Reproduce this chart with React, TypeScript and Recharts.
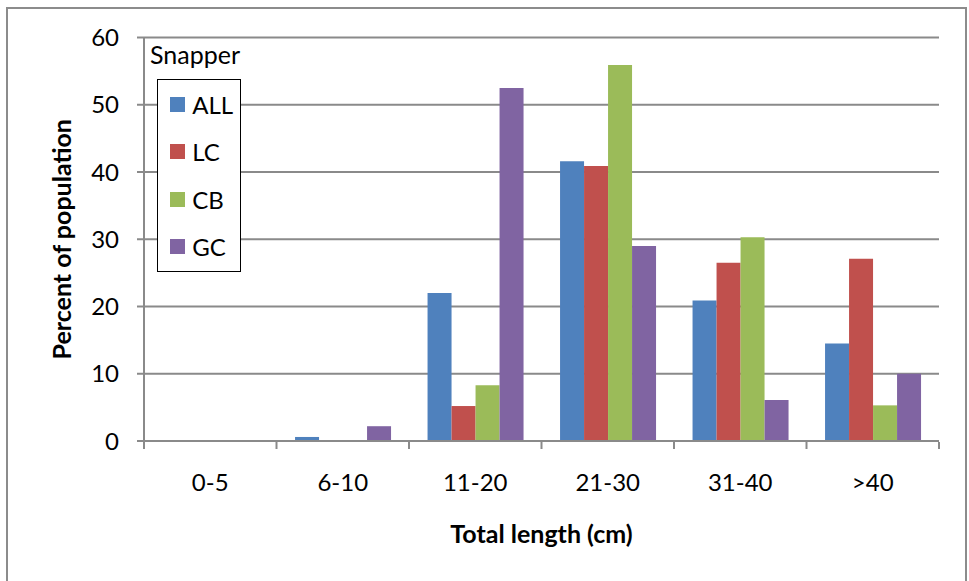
import React from 'react';
import {
  BarChart,
  Bar,
  XAxis,
  YAxis,
  CartesianGrid,
  Legend
} from 'recharts';

// Size classes on the x axis
const lengthClasses = ['0-5', '6-10', '11-20', '21-30', '31-40', '>40'];

// Percent of population per region
const seriesNames = ['ALL', 'LC', 'CB', 'GC'];
const allValues = [0, 0.6, 22.0, 41.6, 20.9, 14.5];
const lcValues = [0, 0, 5.2, 40.9, 26.5, 27.1];
const cbValues = [0, 0, 8.3, 55.9, 30.3, 5.3];
const gcValues = [0, 2.2, 52.5, 29.0, 6.1, 10.0];

const yTicks = [0, 10, 20, 30, 40, 50, 60];
const edgeTicks = [0, 1, 2, 3, 4, 5, 6];

const chartData = lengthClasses.map((cls, i) => ({
  cls,
  ALL: allValues[i],
  LC: lcValues[i],
  CB: cbValues[i],
  GC: gcValues[i]
}));

const FONT = 'Lato, "Noto Sans", sans-serif';
const GRID = '#8a8a8a';

// Excel-style legend box with the "Snapper" title above it
const renderLegend = (props: any) => {
  const payload = [...(props.payload || [])].sort(
    (a: any, b: any) => seriesNames.indexOf(a.value) - seriesNames.indexOf(b.value)
  );
  return (
    <div style={{ position: 'relative', width: 110, height: 245, fontFamily: FONT, color: '#000' }}>
      <div style={{ position: 'absolute', left: 2, top: 3.3, fontSize: 25, lineHeight: '30px' }}>
        Snapper
      </div>
      <div
        style={{
          position: 'absolute',
          left: 9.3,
          top: 43.3,
          width: 84,
          height: 193,
          boxSizing: 'border-box',
          border: '1.5px solid #000',
          background: '#fff'
        }}
      >
        {payload.map((entry: any) => (
          <div key={entry.value} style={{ display: 'flex', alignItems: 'center', height: 47.5 }}>
            <span
              style={{
                display: 'inline-block',
                width: 15,
                height: 15,
                marginLeft: 12,
                marginRight: 7,
                background: entry.color
              }}
            />
            <span style={{ fontSize: 24 }}>{entry.value}</span>
          </div>
        ))}
      </div>
    </div>
  );
};

export default function App() {
  return (
    <div style={{ position: 'absolute', left: 0, top: 0, width: 969, height: 581, overflow: 'hidden', background: '#fff' }}>
      <div
        style={{
          position: 'absolute',
          left: 6,
          top: 7,
          width: 961,
          height: 600,
          boxSizing: 'border-box',
          border: '2px solid #8c8c8c'
        }}
      />
      <div style={{ position: 'absolute', left: 0, top: 0 }}>
        <BarChart
          width={969}
          height={581}
          data={chartData}
          margin={{ top: 37.5, right: 30, left: 34, bottom: 138 }}
          barCategoryGap="14%"
          barGap={0}
        >
          <CartesianGrid vertical={false} stroke={GRID} strokeWidth={2} />
          {/* boundary tick marks between the size classes */}
          <XAxis
            xAxisId="edges"
            type="number"
            dataKey={(d: any) => lengthClasses.indexOf(d.cls) + 0.5}
            domain={[0, lengthClasses.length]}
            ticks={edgeTicks}
            interval={0}
            tickFormatter={() => ''}
            axisLine={false}
            tickLine={{ stroke: GRID, strokeWidth: 2 }}
            tickSize={7}
            height={1}
          />
          <XAxis
            dataKey="cls"
            height={1}
            tickLine={false}
            tickSize={0}
            tickMargin={33}
            axisLine={{ stroke: GRID, strokeWidth: 2 }}
            tick={{ fill: '#000', fontSize: 24, fontFamily: FONT }}
            interval={0}
            label={{
              value: 'Total length (cm)',
              position: 'bottom',
              offset: 83,
              style: { fill: '#000', fontSize: 25, fontWeight: 700, fontFamily: FONT }
            }}
          />
          <YAxis
            width={110}
            domain={[0, 60]}
            ticks={yTicks}
            interval={0}
            tickSize={7}
            tickMargin={18}
            axisLine={{ stroke: GRID, strokeWidth: 2 }}
            tickLine={{ stroke: GRID, strokeWidth: 2 }}
            tick={{ fill: '#000', fontSize: 24, fontFamily: FONT }}
            label={{
              value: 'Percent of population',
              angle: -90,
              position: 'insideLeft',
              offset: 28,
              style: { textAnchor: 'middle', fill: '#000', fontSize: 25, fontWeight: 700, fontFamily: FONT }
            }}
          />
          <Legend
            layout="vertical"
            align="center"
            verticalAlign="middle"
            content={renderLegend}
            wrapperStyle={{ position: 'absolute', left: 148, top: 36, width: 110, height: 245 }}
          />
          <Bar dataKey="ALL" name="ALL" fill="#4f81bd" isAnimationActive={false} />
          <Bar dataKey="LC" name="LC" fill="#c0504d" isAnimationActive={false} />
          <Bar dataKey="CB" name="CB" fill="#9bbb59" isAnimationActive={false} />
          <Bar dataKey="GC" name="GC" fill="#8064a2" isAnimationActive={false} />
        </BarChart>
      </div>
    </div>
  );
}
